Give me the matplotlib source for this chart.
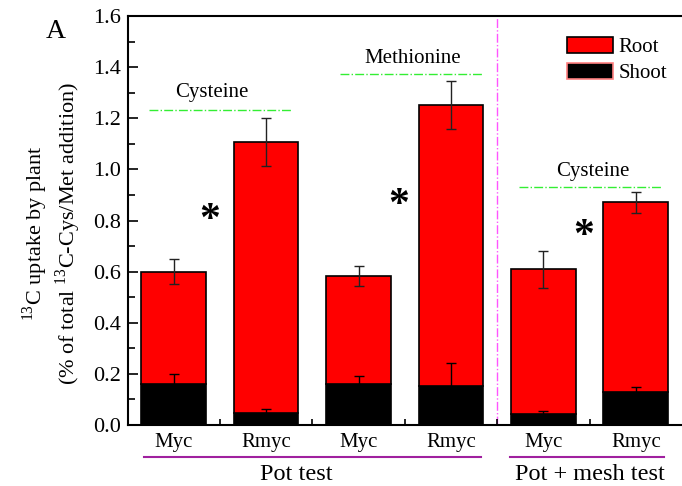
import matplotlib
matplotlib.use("Agg")
import matplotlib.pyplot as plt
import matplotlib.transforms as mtransforms
from matplotlib.patches import Patch
from matplotlib.ticker import MultipleLocator, FormatStrFormatter

plt.rcParams['font.family'] = ['Liberation Serif', 'DejaVu Serif']
plt.rcParams['mathtext.fontset'] = 'custom'
plt.rcParams['mathtext.rm'] = 'Liberation Serif'

# data
labels = ['Myc', 'Rmyc', 'Myc', 'Rmyc', 'Myc', 'Rmyc']
shoot = [0.16, 0.048, 0.16, 0.153, 0.043, 0.130]
shoot_err = [0.04, 0.013, 0.03, 0.09, 0.011, 0.02]
total = [0.60, 1.108, 0.583, 1.253, 0.609, 0.871]
total_err = [0.05, 0.095, 0.04, 0.093, 0.073, 0.04]
root = [t - s for t, s in zip(total, shoot)]

groups = ['Pot test', 'Pot + mesh test']
amino = ['Cysteine', 'Methionine', 'Cysteine']

x = list(range(1, len(labels) + 1))

fig = plt.figure(figsize=(6.82, 4.86), dpi=100)
ax = fig.add_axes([0.187, 0.1255, 0.813, 0.8415])

ax.bar(x, shoot, width=0.7, color='black', edgecolor='black', linewidth=1.2, zorder=2)
ax.bar(x, root, width=0.7, bottom=shoot, color='#ff0000', edgecolor='black',
       linewidth=1.2, zorder=2)
ax.errorbar(x, total, yerr=total_err, fmt='none', ecolor='#222222', elinewidth=1,
            capsize=3.5, capthick=1, zorder=3)
ax.errorbar(x, shoot, yerr=shoot_err, fmt='none', ecolor='black', elinewidth=1,
            capsize=3.5, capthick=1, zorder=3)

ax.set_xlim(0.5, 6.5)
ax.set_ylim(0, 1.6)
ax.set_xticks(x)
ax.set_xticklabels(labels, fontsize=15)
ax.set_xticks([1.5, 2.5, 3.5, 4.5, 5.5], minor=True)
ax.yaxis.set_major_locator(MultipleLocator(0.2))
ax.yaxis.set_minor_locator(MultipleLocator(0.1))
ax.yaxis.set_major_formatter(FormatStrFormatter('%.1f'))
ax.tick_params(axis='y', which='major', direction='in', length=7, width=1.2, labelsize=16, pad=5)
ax.tick_params(axis='y', which='minor', direction='in', length=5, width=1.2)
ax.tick_params(axis='x', which='major', direction='in', length=4, width=1.2, pad=6)
ax.tick_params(axis='x', which='minor', direction='in', length=4, width=1.2)
for s in ['left', 'bottom', 'top']:
    ax.spines[s].set_linewidth(1.5)
ax.spines['right'].set_visible(False)

# divider between the two test types
ax.axvline(4.5, color='#ff55ff', linestyle='-.', linewidth=1, zorder=1)

# amino acid annotations
ax.plot([0.73, 2.27], [1.231, 1.231], color='#33ee33', linestyle='-.', linewidth=1)
ax.plot([2.80, 4.34], [1.372, 1.372], color='#33ee33', linestyle='-.', linewidth=1)
ax.plot([4.74, 6.28], [0.932, 0.932], color='#33ee33', linestyle='-.', linewidth=1)
ax.text(1.41, 1.30, amino[0], fontsize=15, ha='center', va='center')
ax.text(3.59, 1.435, amino[1], fontsize=15, ha='center', va='center')
ax.text(5.54, 0.99, amino[2], fontsize=15, ha='center', va='center')

# significance marks
for sx, sy in [(1.385, 0.80), (3.43, 0.855), (5.44, 0.735)]:
    ax.text(sx, sy, '*', fontsize=30, fontweight='bold', ha='center', va='center')

# group lines and labels under the axis
trans = mtransforms.blended_transform_factory(ax.transData, ax.transAxes)
ax.plot([0.68, 4.33], [-0.078, -0.078], color='#a0209f', linewidth=1.5,
        transform=trans, clip_on=False)
ax.plot([4.64, 6.31], [-0.078, -0.078], color='#a0209f', linewidth=1.5,
        transform=trans, clip_on=False)
ax.text(2.33, -0.121, groups[0], fontsize=17.5, ha='center', va='center', transform=trans)
ax.text(5.50, -0.121, groups[1], fontsize=17.5, ha='center', va='center', transform=trans)

# legend
handles = [Patch(facecolor='#ff0000', edgecolor='black', linewidth=1.2, label='Root'),
           Patch(facecolor='black', edgecolor='#ff8080', linewidth=1.2, label='Shoot')]
ax.legend(handles=handles, loc='upper right', bbox_to_anchor=(1.0, 0.985), frameon=False,
          fontsize=15, handlelength=2.2, handleheight=0.8, handletextpad=0.3,
          labelspacing=0.3, borderaxespad=0.3)

# y label (two lines) and panel letter
fig.text(0.051, 0.52, r'$^{\mathrm{13}}$C uptake by plant', rotation=90,
         fontsize=16, ha='center', va='center')
fig.text(0.100, 0.52, r'(% of total $^{\mathrm{13}}$C-Cys/Met addition)', rotation=90,
         fontsize=16, ha='center', va='center')
fig.text(0.081, 0.936, 'A', fontsize=20, ha='center', va='center')

fig.savefig('out.png', dpi=100)
